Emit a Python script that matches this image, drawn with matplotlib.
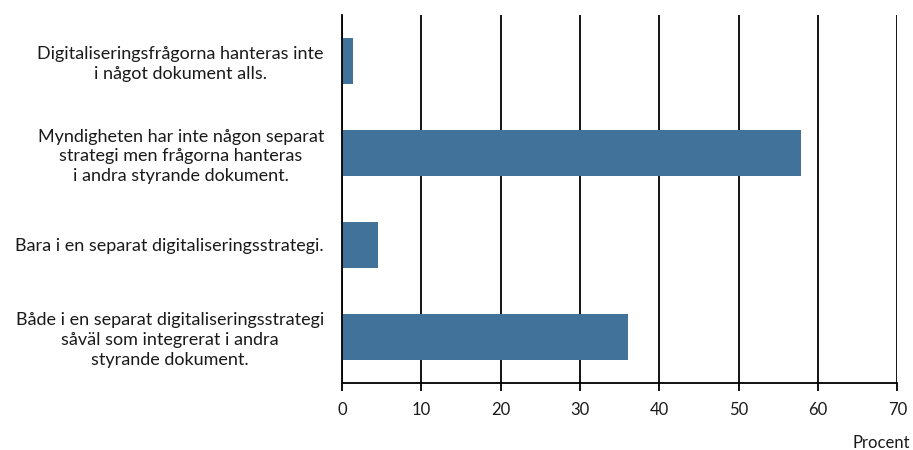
import matplotlib
matplotlib.use("Agg")
import matplotlib.pyplot as plt

# Data (percent), top to bottom
labels = [
    "Digitaliseringsfrågorna hanteras inte\ni något dokument alls.",
    "Myndigheten har inte någon separat\nstrategi men frågorna hanteras\ni andra styrande dokument.",
    "Bara i en separat digitaliseringsstrategi.",
    "Både i en separat digitaliseringsstrategi\nsåväl som integrerat i andra\nstyrande dokument.",
]
values = [1.4, 57.9, 4.6, 36.0]
xticks = [0, 10, 20, 30, 40, 50, 60, 70]

BAR = "#41729a"
TXT = "#1a1a1a"

plt.rcParams["font.family"] = ["Lato", "DejaVu Sans"]

fig = plt.figure(figsize=(9.13, 4.5), dpi=100)
ax = fig.add_axes([342 / 913, 1 - 382.7 / 450, (897.3 - 342) / 913, (382.7 - 15) / 450])

pos = list(range(len(values)))
ax.barh(pos, values, height=0.5, color=BAR, zorder=3)
ax.set_ylim(len(values) - 0.5, -0.5)
ax.set_xlim(0, 70)

ax.set_xticks(xticks)
ax.set_xticklabels([str(t) for t in xticks], fontsize=12, color=TXT)
ax.tick_params(axis="x", direction="out", length=6, width=1.3, color="black", pad=8)
ax.set_yticks(pos)
ax.set_yticklabels(labels, fontsize=13, color=TXT, ha="right",
                   multialignment="center", linespacing=1.28)
ax.tick_params(axis="y", length=0, pad=13)

ax.grid(axis="x", color="black", lw=1.3, zorder=1)
for s in ("top", "right"):
    ax.spines[s].set_visible(False)
ax.spines["left"].set_linewidth(1.3)
ax.spines["bottom"].set_linewidth(1.3)
ax.spines["left"].set_zorder(4)

fig.text(910 / 913, 1 - 443 / 450, "Procent", ha="right", va="center",
         fontsize=12, color=TXT)

fig.savefig("out.png", dpi=100)
